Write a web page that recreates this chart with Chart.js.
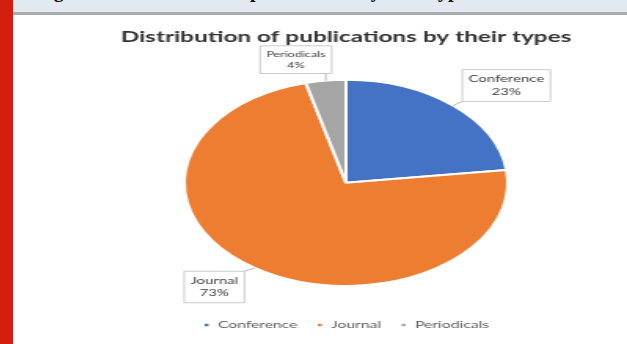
<!DOCTYPE html>
<html>
<head>
<meta charset="utf-8">
<script src="https://cdn.jsdelivr.net/npm/chart.js@4/dist/chart.umd.min.js"></script>
<style>
  html, body { margin: 0; padding: 0; background: #ffffff; }
  body { width: 627px; height: 344px; position: relative; overflow: hidden; }
  #redbar { position: absolute; left: 0; top: 0; width: 13px; height: 344px; background: #d21f10; z-index: 10; }
  #header { position: absolute; left: 13px; top: 0; width: 614px; height: 12px; background: #e3e9f0;
            border-bottom: 3px solid #a9acb0; overflow: hidden; z-index: 9; }
  #header span { position: absolute; left: 23px; top: -20px; font: bold 20px/20px "Liberation Serif", serif;
                 color: #111; white-space: nowrap; }
  #wrap { position: absolute; left: 145.5px; top: 15px; width: 400px; height: 329px;
          transform: scaleX(1.57); transform-origin: 200px 0; }
</style>
</head>
<body>
<div id="redbar"></div>
<div id="header"><span>Figure 3: Distribution of publications by their types</span></div>
<div id="wrap"><canvas id="grafico"></canvas></div>
<script>
const categorias = ['Conference', 'Journal', 'Periodicals'];
const valores = [23, 73, 4];
const cores = ['#4472c4', '#ed7d31', '#a5a5a5'];

// deslocamento de cada caixa de rótulo a partir da borda da fatia
const deslocRotulos = [
    {dx: 34, dy: -20, size: 9.5},
    {dx: -26, dy: 19, size: 9.5},
    {dx: -19, dy: -21, size: 8}
];

const rotulosPlugin = {
    id: 'rotulos',
    afterDatasetsDraw(chart) {
        const ctx = chart.ctx;
        const meta = chart.getDatasetMeta(0);
        const total = valores.reduce((s, v) => s + v, 0);
        meta.data.forEach((arc, i) => {
            const p = arc.getProps(['x', 'y', 'startAngle', 'endAngle', 'outerRadius'], true);
            const meio = (p.startAngle + p.endAngle) / 2;
            const bx = p.x + Math.cos(meio) * p.outerRadius;
            const by = p.y + Math.sin(meio) * p.outerRadius;
            const d = deslocRotulos[i];
            const cx = bx + d.dx;
            const cy = by + d.dy;
            const linhas = [categorias[i], Math.round(valores[i] / total * 100) + '%'];
            ctx.save();
            ctx.font = d.size + 'px Lato, "Open Sans", sans-serif';
            const w = Math.max(...linhas.map(t => ctx.measureText(t).width)) + 8;
            const lh = d.size * 1.35;
            const h = lh * 2 + 6;
            const x0 = cx - w / 2, y0 = cy - h / 2;
            // linha de chamada
            const nx = Math.min(Math.max(bx, x0), x0 + w);
            const ny = Math.min(Math.max(by, y0), y0 + h);
            ctx.strokeStyle = '#a6a6a6';
            ctx.lineWidth = 0.8;
            ctx.beginPath();
            ctx.moveTo(bx, by);
            ctx.lineTo(nx, ny);
            ctx.stroke();
            ctx.fillStyle = '#ffffff';
            ctx.fillRect(x0, y0, w, h);
            ctx.strokeStyle = '#bfbfbf';
            ctx.strokeRect(x0, y0, w, h);
            ctx.fillStyle = '#404040';
            ctx.textAlign = 'center';
            ctx.textBaseline = 'middle';
            ctx.fillText(linhas[0], cx, cy - lh / 2);
            ctx.fillText(linhas[1], cx, cy + lh / 2);
            ctx.restore();
        });
    }
};

const ctx = document.getElementById('grafico').getContext('2d');
new Chart(ctx, {
    type: 'pie',
    data: {
        labels: categorias,
        datasets: [{
            data: valores,
            backgroundColor: cores,
            borderColor: '#ffffff',
            borderWidth: 2,
            radius: 103
        }]
    },
    options: {
        responsive: true,
        maintainAspectRatio: false,
        animation: false,
        layout: { padding: { bottom: 4 } },
        plugins: {
            title: {
                display: true,
                text: 'Distribution of publications by their types',
                color: '#333333',
                font: { family: 'Lato, "Open Sans", sans-serif', size: 15.5, weight: 'bold' },
                padding: { top: 12.5, bottom: 11.5 }
            },
            legend: {
                position: 'bottom',
                labels: {
                    usePointStyle: true,
                    pointStyle: 'rect',
                    boxWidth: 4.5,
                    boxHeight: 4.5,
                    padding: 12,
                    color: '#595959',
                    font: { family: 'Lato, "Open Sans", sans-serif', size: 10 }
                }
            },
            tooltip: { enabled: false }
        }
    },
    plugins: [rotulosPlugin]
});
</script>
</body>
</html>
